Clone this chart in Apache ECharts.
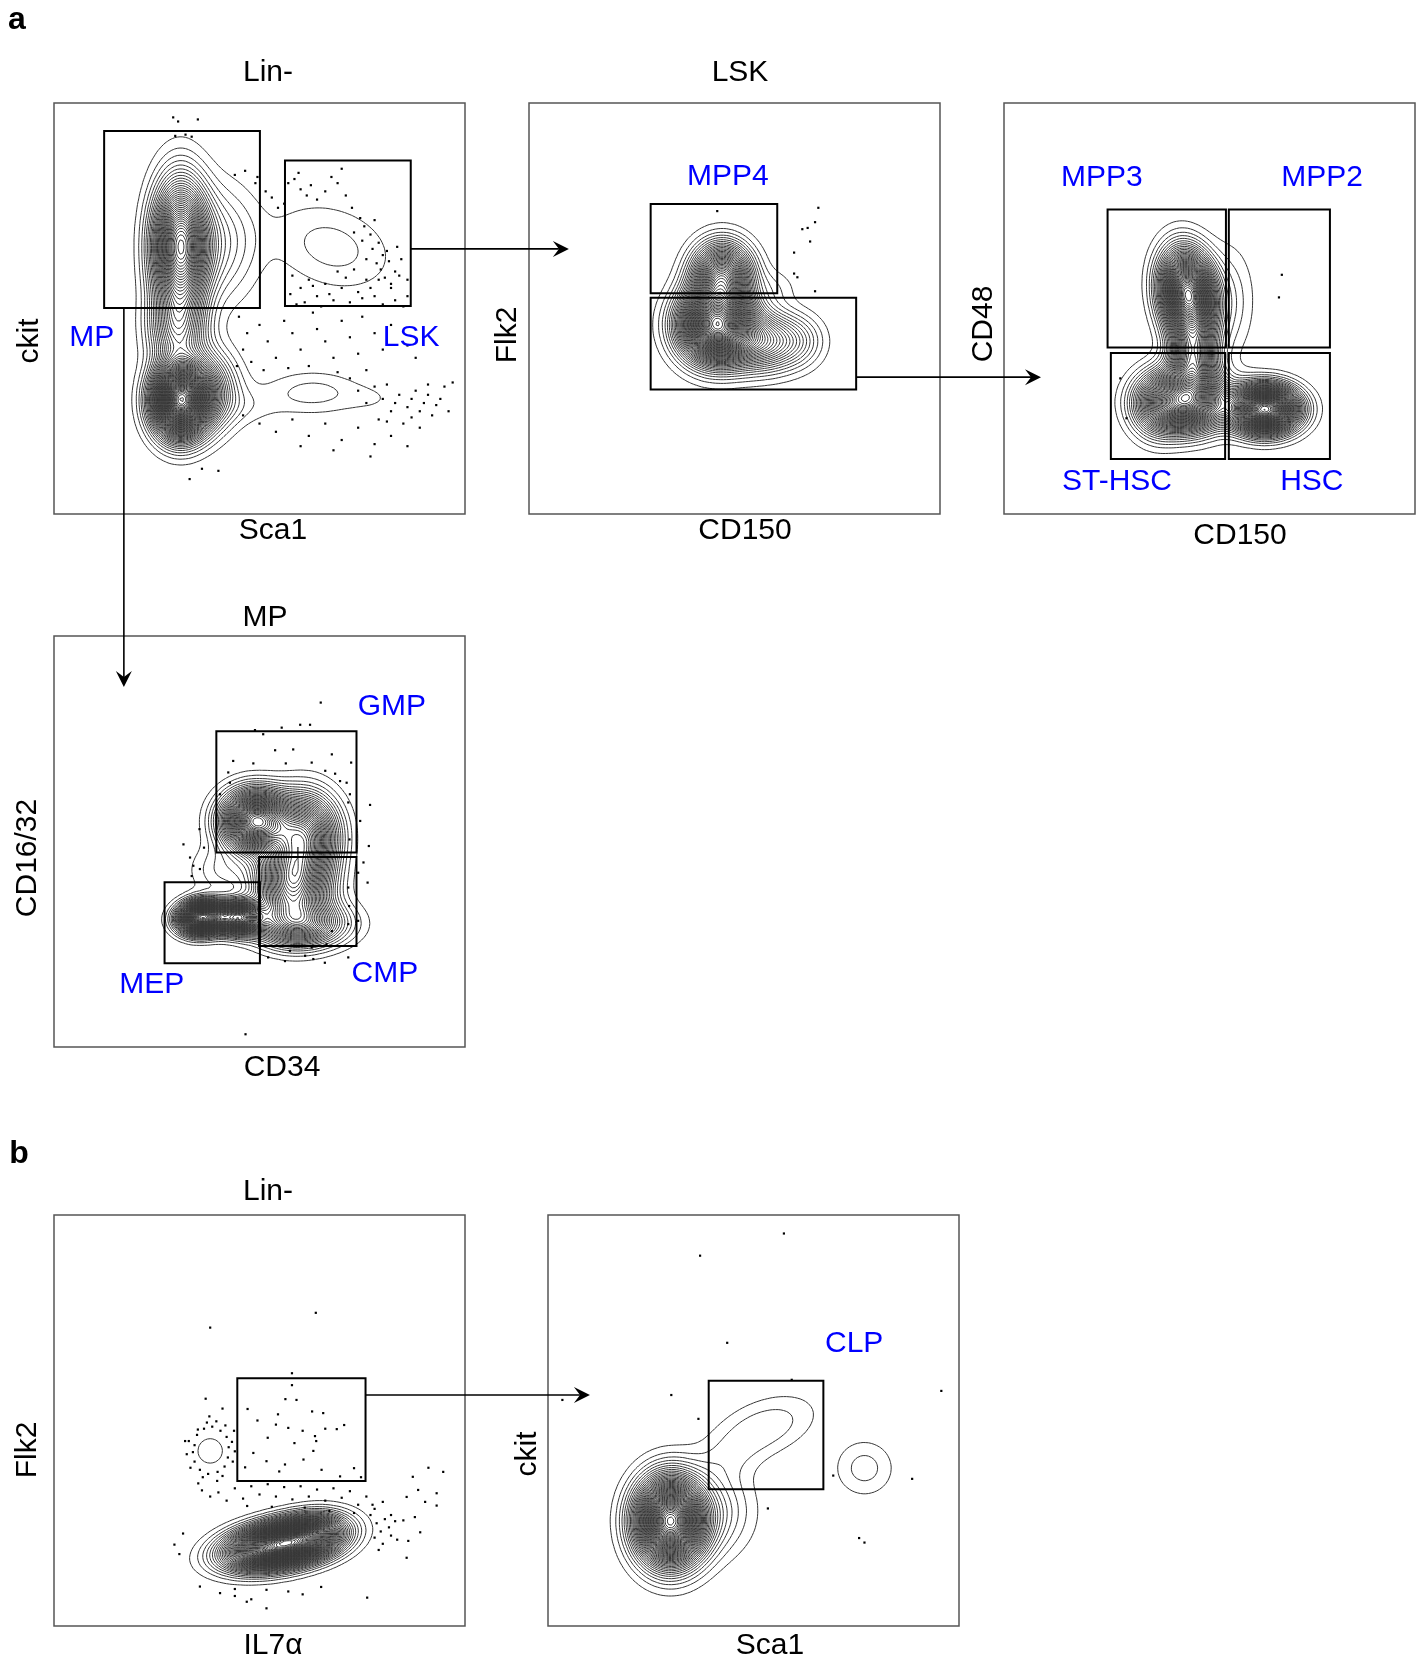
<!DOCTYPE html>
<html><head><meta charset="utf-8">
<script src="https://cdn.jsdelivr.net/npm/echarts@6/dist/echarts.min.js"></script>
<style>html,body{margin:0;padding:0;background:#fff}#c{width:1421px;height:1661px}</style>
</head><body><div id="c"></div>
<script>
// ================= DATA =================
// Panels: 0 Lin- (a), 1 LSK, 2 LSK->Flk2-, 3 MP, 4 Lin- (b), 5 Flk2+IL7a+
const xAxisNames = ['Sca1', 'CD150', 'CD150', 'CD34', 'IL7α', 'Sca1'];
const yAxisNames = ['ckit', 'Flk2', 'CD48', 'CD16/32', 'Flk2', 'ckit'];
const panelTitles = ['Lin-', 'LSK', '', 'MP', 'Lin-', ''];

// Cell populations (density components), in axis units 0-100:
// [centerX, centerY, spreadX, spreadY, tiltDeg, peakDensity]
const popLin = [
  [30.7, 65, 4.2, 10, 0, 0.7],
  [30.5, 27.5, 4.1, 5.5, 0, 1.0],
  [36, 30, 5, 6, 0, 0.3],
  [30, 45, 4.3, 6, 0, 0.25],
  [40, 66, 6, 9, 0, 0.1],
  [67.5, 65, 10, 6.6, -18, 0.05],
  [63, 29.5, 8, 3.5, 0, 0.05],
  [78, 28, 5, 2.5, 0, 0.015],
  [46, 26, 6, 3, 0, 0.025]
];
const popLSK = [
  [45.5, 46, 5.5, 5.5, 0, 1.0],
  [47, 58, 4.5, 5, 0, 0.55],
  [57, 42, 6, 4.5, 0, 0.3],
  [66, 42, 4, 4, 0, 0.06],
  [60, 55, 3.5, 3, 0, 0.03]
];
const popHSC = [
  [44.8, 53.5, 4, 6.5, 8, 0.9],
  [46, 38, 3.5, 6, 0, 0.45],
  [44, 27.5, 6, 4.5, 0, 0.75],
  [63.5, 25.5, 5, 3.5, 0, 1.0],
  [55, 52, 4, 9, 0, 0.05],
  [37, 26, 4, 5, 0, 0.15]
];
const popMP = [
  [49, 55, 5, 4.5, 0, 0.8],
  [61, 52, 5, 6, 0, 0.5],
  [58, 40, 5.5, 6.5, 0, 0.6],
  [60, 30, 7, 3.5, 0, 0.35],
  [36, 31.5, 3.5, 2.4, 5, 1.0],
  [45, 31.5, 3.5, 2.4, 0, 0.7],
  [41, 43, 5, 4, 0, 0.06]
];
const popLinB = [
  [54, 19.5, 7.6, 3.2, 10, 1.0],
  [62.5, 22, 5.8, 3.2, 10, 0.4],
  [38, 42.6, 3.3, 3.3, 0, 0.03]
];
const popCLP = [
  [29.7, 25.5, 5.2, 6.5, 0, 1.0],
  [41, 28, 6, 7, 0, 0.08],
  [53, 48.5, 8.5, 4.5, 20, 0.055],
  [44, 41, 6, 4, 30, 0.025],
  [77, 38.4, 4.8, 4.6, 0, 0.05]
];
const populations = [popLin, popLSK, popHSC, popMP, popLinB, popCLP];
const contourStep = 0.02;

// Gates: [x1, y1, x2, y2]
const gatesLin = [[12.2, 50.1, 50.1, 93.2], [56.2, 50.6, 86.8, 86.0]];
const gatesLSK = [[29.6, 53.7, 60.4, 75.4], [29.6, 30.3, 79.6, 52.6]];
const gatesHSC = [[25.2, 40.5, 54.0, 74.1], [54.7, 40.5, 79.3, 74.1], [26.0, 13.4, 53.8, 39.2], [54.7, 13.4, 79.3, 39.2]];
const gatesMP = [[39.5, 47.3, 73.6, 76.8], [49.9, 24.6, 73.6, 46.2], [26.9, 20.4, 50.1, 40.1]];
const gatesLinB = [[44.6, 35.3, 75.8, 60.3]];
const gatesCLP = [[39.1, 33.3, 67.0, 59.7]];
const gates = [gatesLin, gatesLSK, gatesHSC, gatesMP, gatesLinB, gatesCLP];

// Gate names: [x, y, name]
const labelsLin = [[9.2, 42.8, 'MP'], [86.9, 42.8, 'LSK']];
const labelsLSK = [[48.4, 82, 'MPP4']];
const labelsHSC = [[23.8, 81.8, 'MPP3'], [77.4, 81.8, 'MPP2'], [27.5, 7.8, 'ST-HSC'], [74.9, 7.8, 'HSC']];
const labelsMP = [[82.2, 82.7, 'GMP'], [80.5, 17.8, 'CMP'], [23.8, 15.1, 'MEP']];
const labelsLinB = [];
const labelsCLP = [[74.5, 68.6, 'CLP']];
const gateLabels = [labelsLin, labelsLSK, labelsHSC, labelsMP, labelsLinB, labelsCLP];

// Outlier events (dots)
const dotsLin = [
[29,96.5],[30.2,95.5],[35,96],[29.5,92],[32,92.3],[33.5,91.8],
[44,82.5],[46.5,83.5],[49,80.5],[49.5,82],[51.5,78.5],[53,77],[54.5,74.5],[56,75.5],
[57,80.5],[58.5,81.5],[60,79],[62.5,80],[64,76.5],[66,78.5],[69,80.5],[71,77.5],[72.5,74.5],[74.5,72],[75.5,70],[77,68],[79,66],[80,63],[78.5,61],[81,64],[83,59],[84.5,62],[86,57],[82,56],
[77.5,64.5],[79.5,59.5],[81.5,61.5],[83.5,65],[76,62],[80.5,57.5],[78,71.5],[73,68.5],[75,66.5],[59.5,83],[61.5,77.5],[67.5,82],[70,84],
[58,58],[60,55],[62,57],[64,53],[66,56],[68,52],[70,55],[72,51.5],[74,54],[76,57],[78,53],[80,51],[82,55],[84,58],[86,53],[61,51.5],[65,50.5],[69,59],[73,59.5],[85,50.5],
[57.5,53.5],[59,51],[63,55.5],[67,53.5],[71,57.5],[75,52.5],[77,55],[79,57],[83,52],
[45,48],[47,44],[46,40],[48,37],[50,46],[52,42],[54,38],[56,47],[58,44],[60,40],[62,36],[64,45],[66,42],[68,38],[70,47],[72,43],[74,39],[76,35],[78,44],[80,40],[44.5,36],[51,35],[57,35.5],[63,49],[69,34.5],[75,48],[82,46],[86,41],[88,38],
[72,33],[74,30],[76,27],[78,31],[80,28],[82,25],[84,29],[86,26],[88,30],[90,27],[92,24],[94,28],[96,25],[85,22],[89,21],[79,23],[97,32],[91,31.5],
[81,31.5],[83,27],[87,28],[89,25],[91,29],[93,26.5],[95,31],[87,23.5],[81,22.5],
[46,24],[50,22],[54,20],[58,23],[62,19],[66,22],[70,18],[74,21],[78,17],[82,19],[86,16.5],[60,16.5],[68,15.5],[77,14],
[36,11],[40,10.5],[33,8.5]
];
const dotsLSK = [[45.8,73.7],[70.4,74.5],[69.6,71],[66.5,69.3],[67.8,69.6],[68.4,66.3],[64.5,63.6],[64.5,58.5],[65.3,57.6],[69.6,54.2]];
const dotsHSC = [[67.6,58.2],[66.9,52.7],[28.3,33],[29.8,23.3]];
const dotsMP = [
[64.9,83.8],[55.4,77.7],[59.9,78.4],[62.3,78.4],[48.9,77.1],[50.9,76.1],[58.2,72.4],[53.8,72.2],[43.6,69.6],[48.5,69],[56.4,69],[62.7,69.2],[67.6,71.2],[72.3,69.2],[42.4,66.8],[66,67.2],[68.4,66.5],[69.6,64.7],[71.2,64.3],[72,61.5],[71.6,59.5],[76.9,58.9],[74.5,55],[71.9,50.5],[76.6,48.9],[42.8,64.3],[40.4,61.5],[35.4,53],[31.5,49.3],[36.5,48.5],[33.1,46.1],[33.9,44.1],[35.5,43.3],[33.5,41.6],[75.3,44.9],[74,42.4],[76.3,40],[71.6,38.8],[71.8,34.3],[71.6,29.9],[74,30.7],[67.6,28.2],[66.3,25],[62.7,24.2],[61.1,22.2],[65.9,20.5],[57.4,23.4],[56.2,20.9],[52.1,21.8],[71.6,21.8],[63.1,21.4],[46.6,3.1]
];
const dotsLinB = [
[34.2,44],[34.8,46.5],[36.5,48],[38.5,48.5],[40.5,47.5],[42,46],[42.5,43.5],[42.3,41],[41.5,38.8],[39.8,37.5],[37.5,37],[35.5,38],[34.2,40],[33.8,42.3],[35,47.8],[37.2,49.5],[39.5,49.8],[41.7,48.8],[43.3,44.8],[43.5,40],[41,36.5],[36.2,36.2],[33.2,38.5],[32.8,45],[44,42.5],[37.8,51],[39.7,35.3],[32.3,41.8],[43.8,47.5],
[36.9,55.3],[41,52.9],[31.9,45],[35.1,34.7],[38,72.6],[63.7,76.2],
[57.9,61.5],[57.9,58.6],[56.3,55.2],[59,55],[47.1,52.8],[62.8,52.2],[65.5,51.8],[54.5,51.5],[49.5,50],[54,49],[57,48.2],[60.5,47.5],[66,48],[70.6,48.9],[68.8,47.9],[63.5,46.2],[63.8,45],[52,45.8],[58.5,44.5],[63.1,42.6],[48.5,42.1],[51.7,40.1],[56.2,39.3],[60.7,40.5],[65.1,38],[73,38.4],[46.5,38.6],[69.6,36.4],[74.7,36.2],[54.8,37.6],
[36,33],[38,31.5],[40,32.5],[42,30.5],[44,33.5],[46,31],[48,34],[50,32],[52,34.5],[54,31.5],[56,33.8],[58,30.8],[60,34],[62,31.5],[64,33.2],[66,30.5],[68,33.5],[70,31.2],[72,32.8],[74,29.5],[76,31.5],[78,28.5],[80,30.2],[82,27],[47,29.2],[53,29],[61,28.8],[67,28],[73,27.5],
[77,27],[78.5,25],[79.5,23],[80.5,26],[81.5,24],[78,21.5],[80,20],[82,22],[79,18.5],[83,25.5],[77.5,29.5],[83.5,21],
[91.1,38.5],[94.7,37.5],[87.3,36.3],[88.6,33.1],[85.8,31.4],[90.3,30.2],[93.1,32.3],[93.1,29.3],[87.8,26.5],[85,25.7],[89.1,22.8],[86.2,20.7],[85.8,16.6],
[35.5,9.6],[40.4,8],[44,9],[48,6.5],[51.7,8.8],[51.7,4.3],[57,8.4],[60.5,7.7],[65,9.5],[76.2,6.9],[46.9,5.9],[44,7.3],
[29.3,19.8],[30.5,17.5],[31.4,22.5]
];
const dotsCLP = [[57.4,95.5],[37,90.1],[43.6,68.9],[30,56.2],[3.5,55],[59.3,59.9],[36.6,50.4],[95.7,57.2],[69.4,36.6],[88.6,35.8],[53.5,28.6],[75.7,21.4],[77,20.3]];
const dots = [dotsLin, dotsLSK, dotsHSC, dotsMP, dotsLinB, dotsCLP];

// ================= LAYOUT =================
const GRID = 411;
const gridOrigins = [[54,103],[529,103],[1004,103],[54,636],[54,1215],[548,1215]];
const FONT = '"Liberation Sans", Arial, Helvetica, sans-serif';
const BLUE = '#0000ff';
// text layout (pixel positions of titles / axis names)
const textLayout = [
  ['a', 17, 20, 0, true], ['b', 19, 1154, 0, true],
  [panelTitles[0], 268, 73, 0], [xAxisNames[0], 273, 531, 0], [yAxisNames[0], 30, 341, 1],
  [panelTitles[1], 740, 73, 0], [xAxisNames[1], 745, 531, 0], [yAxisNames[1], 508, 335, 1],
  [xAxisNames[2], 1240, 536, 0], [yAxisNames[2], 984, 324, 1],
  [panelTitles[3], 265, 618, 0], [xAxisNames[3], 282, 1068, 0], [yAxisNames[3], 27.5, 858, 1],
  [panelTitles[4], 268, 1192, 0], [xAxisNames[4], 273, 1646, 0], [yAxisNames[4], 28, 1450, 1],
  [xAxisNames[5], 770, 1646, 0], [yAxisNames[5], 528, 1454, 1]
];
// arrows: from gate edge (panel, data point) to next panel (panel, data coordinate along travel axis)
const arrowSpec = [
  {from: 0, p: [86.8, 64.5], to: 1, dir: 'h', end: 9.7},
  {from: 1, p: [79.6, 33.3], to: 2, dir: 'h', end: 9.0},
  {from: 0, p: [17.0, 50.1], to: 3, dir: 'v', end: 87.6},
  {from: 4, p: [75.8, 56.2], to: 5, dir: 'h', end: 10.2}
];

// ================= CONTOURS =================
const RES = 150;
function buildField(pops) {
  const n = RES + 1, step = 100 / RES;
  const f = new Float64Array(n * n);
  const comps = pops.map(p => { const a = p[4] * Math.PI / 180;
    return {cx: p[0], cy: p[1], sx: p[2], sy: p[3], c: Math.cos(a), s: Math.sin(a), w: p[5]}; });
  let max = 0;
  for (let j = 0; j < n; j++) { const y = j * step;
    for (let i = 0; i < n; i++) { const x = i * step; let v = 0;
      for (const q of comps) { const dx = x - q.cx, dy = y - q.cy;
        const u = (dx * q.c + dy * q.s) / q.sx, w = (-dx * q.s + dy * q.c) / q.sy;
        v += q.w * Math.exp(-0.5 * (u * u + w * w)); }
      f[j * n + i] = v; if (v > max) max = v; } }
  return {f, max};
}
const caseTable = {1:[3,0],2:[0,1],3:[3,1],4:[1,2],5:[3,0,1,2],6:[0,2],7:[2,3],8:[2,3],9:[0,2],10:[0,1,2,3],11:[1,2],12:[1,3],13:[0,1],14:[3,0]};
function marching(f, level) {
  const n = RES + 1, step = 100 / RES, segs = [];
  for (let j = 0; j < n - 1; j++) for (let i = 0; i < n - 1; i++) {
    const v0 = f[j*n+i], v1 = f[j*n+i+1], v2 = f[(j+1)*n+i+1], v3 = f[(j+1)*n+i];
    let c = 0; if (v0 > level) c |= 1; if (v1 > level) c |= 2; if (v2 > level) c |= 4; if (v3 > level) c |= 8;
    if (c === 0 || c === 15) continue;
    const x0 = i * step, y0 = j * step;
    const e = k => k === 0 ? [x0 + step * (level - v0) / (v1 - v0), y0]
      : k === 1 ? [x0 + step, y0 + step * (level - v1) / (v2 - v1)]
      : k === 2 ? [x0 + step * (level - v3) / (v2 - v3), y0 + step]
      : [x0, y0 + step * (level - v0) / (v3 - v0)];
    const t = caseTable[c];
    for (let m = 0; m < t.length; m += 2) { const a = e(t[m]), b = e(t[m+1]); segs.push(a[0], a[1], b[0], b[1]); }
  }
  return segs;
}
const contourData = populations.map(pops => {
  const fd = buildField(pops); const out = [];
  for (let lv = contourStep; lv < fd.max; lv += contourStep) out.push(marching(fd.f, lv));
  return out;
});

// ================= OPTION =================
const grids = [], xAxes = [], yAxes = [], series = [];
gridOrigins.forEach((o, g) => {
  grids.push({left: o[0], top: o[1], width: GRID, height: GRID, show: true, borderColor: '#555', borderWidth: 1.5, backgroundColor: 'transparent'});
  xAxes.push({gridIndex: g, type: 'value', min: 0, max: 100, show: false});
  yAxes.push({gridIndex: g, type: 'value', min: 0, max: 100, show: false});
  series.push({
    type: 'custom', xAxisIndex: g, yAxisIndex: g, silent: true, clip: true, animation: false,
    data: contourData[g].map((s, k) => [k, 0]),
    renderItem: (params, api) => {
      const segs = contourData[g][params.dataIndex];
      const o0 = api.coord([0, 0]), o1 = api.coord([100, 100]);
      const kx = (o1[0] - o0[0]) / 100, ky = (o1[1] - o0[1]) / 100;
      const parts = [];
      for (let i = 0; i < segs.length; i += 4) {
        parts.push('M' + (o0[0] + segs[i] * kx).toFixed(1) + ' ' + (o0[1] + segs[i+1] * ky).toFixed(1) +
          'L' + (o0[0] + segs[i+2] * kx).toFixed(1) + ' ' + (o0[1] + segs[i+3] * ky).toFixed(1));
      }
      if (!parts.length) return null;
      return {type: 'path', shape: {pathData: parts.join('')}, style: {fill: 'none', stroke: '#363636', lineWidth: 1}};
    }
  });
  series.push({
    type: 'scatter', xAxisIndex: g, yAxisIndex: g, silent: true, animation: false,
    symbol: 'rect', symbolSize: 2.2, itemStyle: {color: '#000', opacity: 1}, data: dots[g]
  });
  series.push({
    type: 'custom', xAxisIndex: g, yAxisIndex: g, silent: true, clip: false, animation: false,
    data: gates[g],
    renderItem: (params, api) => {
      const p1 = api.coord([api.value(0), api.value(1)]), p2 = api.coord([api.value(2), api.value(3)]);
      return {type: 'rect', shape: {x: Math.min(p1[0], p2[0]), y: Math.min(p1[1], p2[1]), width: Math.abs(p2[0] - p1[0]), height: Math.abs(p2[1] - p1[1])},
        style: {fill: 'none', stroke: '#000', lineWidth: 2}};
    }
  });
  series.push({
    type: 'scatter', xAxisIndex: g, yAxisIndex: g, silent: true, animation: false, symbolSize: 0,
    itemStyle: {color: BLUE, opacity: 1},
    data: gateLabels[g].map(l => ({value: [l[0], l[1]], name: l[2]})),
    label: {show: true, position: 'inside', formatter: '{b}', color: BLUE, fontSize: 30, fontFamily: FONT,
      textBorderWidth: 0, textBorderColor: 'transparent', opacity: 1}
  });
});

const chart = echarts.init(document.getElementById('c'), null, {renderer: 'canvas'});
const graphics = textLayout.map(t => ({
  type: 'text', x: t[1], y: t[2], rotation: t[3] ? Math.PI / 2 : 0, silent: true,
  style: {text: t[0], fill: '#000', font: (t[4] ? 'bold 32px ' : '30px ') + FONT, align: 'center', verticalAlign: 'middle'}
}));
chart.setOption({animation: false, grid: grids, xAxis: xAxes, yAxis: yAxes, series: series, graphic: graphics});

// arrows derived from the gate positions through the grid scales
const arrowGraphics = [];
arrowSpec.forEach(a => {
  const s = chart.convertToPixel({gridIndex: a.from}, a.p);
  let tip;
  if (a.dir === 'h') { const t = chart.convertToPixel({gridIndex: a.to}, [a.end, 50]); tip = [t[0], s[1]]; }
  else { const t = chart.convertToPixel({gridIndex: a.to}, [50, a.end]); tip = [s[0], t[1]]; }
  const dx = Math.sign(tip[0] - s[0]), dy = Math.sign(tip[1] - s[1]);
  const L = 16, W = 8, nx = -dy, ny = dx;
  arrowGraphics.push({type: 'line', silent: true, shape: {x1: s[0], y1: s[1], x2: tip[0] - dx * 10, y2: tip[1] - dy * 10}, style: {stroke: '#000', lineWidth: 1.6}});
  arrowGraphics.push({type: 'polygon', silent: true, shape: {points: [
    [tip[0], tip[1]],
    [tip[0] - dx * L + nx * W, tip[1] - dy * L + ny * W],
    [tip[0] - dx * L * 0.62, tip[1] - dy * L * 0.62],
    [tip[0] - dx * L - nx * W, tip[1] - dy * L - ny * W]
  ]}, style: {fill: '#000'}});
});
chart.setOption({graphic: graphics.concat(arrowGraphics)});
</script></body></html>
